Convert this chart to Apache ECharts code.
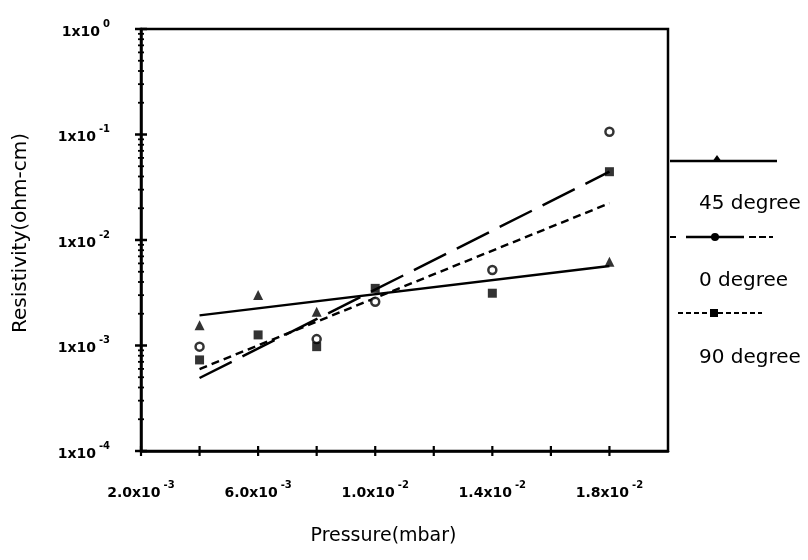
<!DOCTYPE html>
<html>
<head>
<meta charset="utf-8">
<script src="https://cdn.jsdelivr.net/npm/echarts@6/dist/echarts.min.js"></script>
<style>html,body{margin:0;padding:0;background:#fff}#c{width:808px;height:560px}</style>
</head>
<body>
<div id="c"></div>
<script>
// ---- data ----
const pressure = [0.004, 0.006, 0.008, 0.010, 0.014, 0.018];
const deg45 = [1.56e-3, 3.01e-3, 2.09e-3, null, null, 6.22e-3];
const deg0  = [9.75e-4, null, 1.15e-3, 2.60e-3, 5.20e-3, 0.106];
const deg90 = [7.3e-4, 1.26e-3, 9.75e-4, 3.48e-3, 3.13e-3, 0.0444];
// fitted trend lines (endpoints)
const fitX  = [0.004, 0.018];
const fit45 = [1.93e-3, 5.67e-3];
const fit0  = [4.92e-4, 0.0444];
const fit90 = [5.98e-4, 0.0223];
// tick labels
const xLabelValues = [0.002, 0.006, 0.010, 0.014, 0.018];
const xLabelMantissas = ['2.0', '6.0', '1.0', '1.4', '1.8'];
const xLabelExponents = ['-3', '-3', '-2', '-2', '-2'];
const yLabelValues = [1e-4, 1e-3, 1e-2, 1e-1, 1];
const yLabelExponents = ['-4', '-3', '-2', '-1', '0'];
const seriesNames = ['45 degree', '0 degree', '90 degree'];

const X_MIN = 0.002, X_MAX = 0.020, X_STEP = 0.002;
const Y_MIN = 1e-4, Y_MAX = 1;
const FONT = 'DejaVu Sans';

function pairs(xs, ys) {
  const out = [];
  xs.forEach((x, i) => { if (ys[i] != null) out.push([x, ys[i]]); });
  return out;
}

// axis tick marks (drawn crossing the axis as in the scan)
const yTickData = [];
for (let e = -4; e < 0; e++) {
  for (let m = 1; m <= 9; m++) yTickData.push([X_MIN, m * Math.pow(10, e), m === 1 ? 1 : 0]);
}
yTickData.push([X_MIN, 1, 1]);
const xTickData = [];
for (let k = 0; k <= 8; k++) xTickData.push([X_MIN + k * X_STEP, Y_MIN, 1]);

const chart = echarts.init(document.getElementById('c'), null, {renderer: 'canvas'});

const rich = {
  b: {fontFamily: FONT, fontSize: 14, fontWeight: 'bold', color: '#000', lineHeight: 20, verticalAlign: 'bottom'},
  s: {fontFamily: FONT, fontSize: 10, fontWeight: 'bold', color: '#000', lineHeight: 20, verticalAlign: 'top', padding: [0, 0, 0, 3]}
};

const option = {
  backgroundColor: '#fff',
  animation: false,
  grid: {left: 141, top: 29, right: 140, bottom: 109, show: true, borderColor: '#000', borderWidth: 2.5, backgroundColor: 'transparent'},
  xAxis: {
    type: 'value', min: X_MIN, max: X_MAX, interval: X_STEP,
    name: 'Pressure(mbar)', nameLocation: 'middle', nameGap: 76,
    nameTextStyle: {fontFamily: FONT, fontSize: 19, color: '#000', padding: [0, 42, 0, 0]},
    axisLine: {lineStyle: {color: '#000', width: 2.5}},
    axisTick: {show: false},
    splitLine: {show: false},
    axisLabel: {
      margin: 29,
      formatter: function (v) {
        const i = xLabelValues.findIndex(t => Math.abs(t - v) < 1e-7);
        if (i < 0) return '';
        return '{b|' + xLabelMantissas[i] + 'x10}{s|' + xLabelExponents[i] + '}';
      },
      rich: rich
    }
  },
  yAxis: {
    type: 'log', logBase: 10, min: Y_MIN, max: Y_MAX,
    name: 'Resistivity(ohm-cm)', nameLocation: 'middle', nameGap: 110,
    nameTextStyle: {fontFamily: FONT, fontSize: 20, color: '#000', padding: [0, 0, 0, 14]},
    axisLine: {lineStyle: {color: '#000', width: 2.5}},
    axisTick: {show: false},
    splitLine: {show: false},
    axisLabel: {
      margin: 31,
      formatter: function (v) {
        const i = yLabelValues.findIndex(t => Math.abs(Math.log10(t) - Math.log10(v)) < 1e-6);
        if (i < 0) return '';
        return '{b|1x10}{s|' + yLabelExponents[i] + '}';
      },
      rich: rich
    }
  },
  series: [
    {
      type: 'line', name: seriesNames[0] + ' fit', data: pairs(fitX, fit45), showSymbol: false,
      lineStyle: {color: '#000', width: 2.5, type: 'solid'}, z: 3
    },
    {
      type: 'line', name: seriesNames[1] + ' fit', data: pairs(fitX, fit0), showSymbol: false,
      lineStyle: {color: '#000', width: 2.5, type: [36, 12]}, z: 3
    },
    {
      type: 'line', name: seriesNames[2] + ' fit', data: pairs(fitX, fit90), showSymbol: false,
      lineStyle: {color: '#000', width: 2.5, type: [8, 5]}, z: 3
    },
    {
      type: 'scatter', name: seriesNames[0], data: pairs(pressure, deg45), symbol: 'triangle', symbolSize: 10,
      itemStyle: {color: '#000'}, z: 4
    },
    {
      type: 'scatter', name: seriesNames[1], data: pairs(pressure, deg0), symbol: 'circle', symbolSize: 8,
      itemStyle: {color: '#fff', borderColor: '#000', borderWidth: 2.5}, z: 4
    },
    {
      type: 'scatter', name: seriesNames[2], data: pairs(pressure, deg90), symbol: 'rect', symbolSize: 9,
      itemStyle: {color: '#000'}, z: 4
    },
    {
      type: 'custom', name: 'yticks', data: yTickData, clip: false, silent: true, z: 5,
      renderItem: function (params, api) {
        const p = api.coord([api.value(0), api.value(1)]);
        const major = api.value(2) === 1;
        const len = major ? 6 : 3;
        return {type: 'line', shape: {x1: p[0] - len, y1: p[1], x2: p[0] + len, y2: p[1]},
          style: {stroke: '#000', lineWidth: major ? 2.5 : 1.8}};
      }
    },
    {
      type: 'custom', name: 'xticks', data: xTickData, clip: false, silent: true, z: 5,
      renderItem: function (params, api) {
        const p = api.coord([api.value(0), api.value(1)]);
        return {type: 'line', shape: {x1: p[0], y1: p[1] - 5, x2: p[0], y2: p[1] + 5},
          style: {stroke: '#000', lineWidth: 2.2}};
      }
    }
  ],
  graphic: [
    // legend: 45 degree
    {type: 'line', shape: {x1: 670, y1: 161, x2: 777, y2: 161}, style: {stroke: '#000', lineWidth: 2.5}},
    {type: 'polygon', shape: {points: [[717, 155], [712, 162], [722, 162]]}, style: {fill: '#000'}},
    {type: 'text', left: 699, top: 194, style: {text: seriesNames[0], font: '20px "DejaVu Sans"', fill: '#000'}},
    // legend: 0 degree
    {type: 'line', shape: {x1: 670, y1: 237, x2: 676, y2: 237}, style: {stroke: '#000', lineWidth: 2}},
    {type: 'line', shape: {x1: 686, y1: 237, x2: 744, y2: 237}, style: {stroke: '#000', lineWidth: 2.5}},
    {type: 'circle', shape: {cx: 715, cy: 237, r: 4}, style: {fill: '#000'}},
    {type: 'line', shape: {x1: 749, y1: 237, x2: 773, y2: 237}, style: {stroke: '#000', lineWidth: 2, lineDash: [7, 3]}},
    {type: 'text', left: 699, top: 271, style: {text: seriesNames[1], font: '20px "DejaVu Sans"', fill: '#000'}},
    // legend: 90 degree
    {type: 'line', shape: {x1: 678, y1: 313, x2: 762, y2: 313}, style: {stroke: '#000', lineWidth: 2, lineDash: [5, 3]}},
    {type: 'rect', shape: {x: 710, y: 309, width: 8, height: 8}, style: {fill: '#000'}},
    {type: 'text', left: 699, top: 348, style: {text: seriesNames[2], font: '20px "DejaVu Sans"', fill: '#000'}}
  ]
};
chart.setOption(option);
</script>
</body>
</html>
